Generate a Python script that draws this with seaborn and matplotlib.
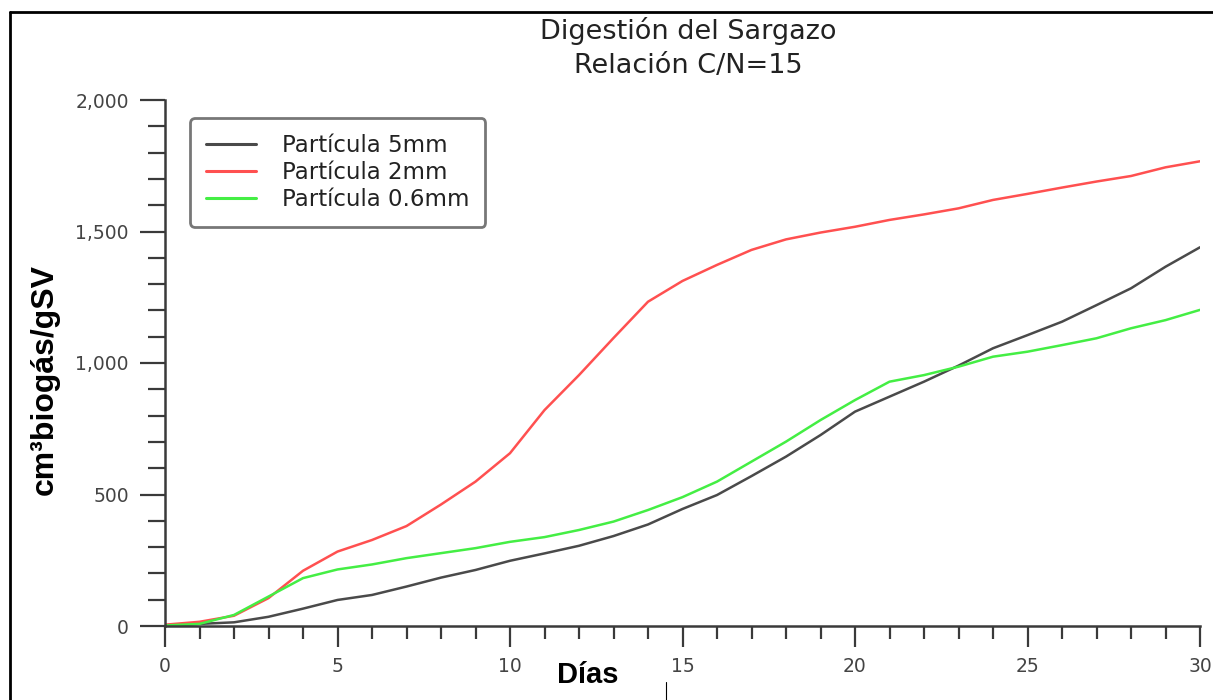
import numpy as np
import pandas as pd
import matplotlib
matplotlib.use("Agg")
import matplotlib.pyplot as plt
import seaborn as sns
from matplotlib.lines import Line2D
from matplotlib.ticker import MultipleLocator, FuncFormatter

days = list(range(0, 31))
p5mm = [0, 8, 14, 35, 66, 99, 118, 150, 184, 213, 248, 276, 305, 342, 386, 445,
        498, 570, 644, 726, 815, 872, 929, 990, 1056, 1106, 1157, 1220, 1284, 1366, 1440]
p2mm = [5, 16, 39, 106, 210, 283, 327, 380, 462, 549, 657, 821, 954, 1095, 1233, 1312,
        1373, 1430, 1470, 1496, 1518, 1544, 1565, 1588, 1620, 1643, 1667, 1690, 1711, 1744, 1767]
p06mm = [2, 8, 42, 112, 182, 215, 234, 258, 277, 296, 320, 338, 365, 397, 441, 490,
         549, 625, 701, 783, 859, 929, 954, 986, 1024, 1043, 1068, 1094, 1132, 1163, 1202]
series_names = ["Partícula 5mm", "Partícula 2mm", "Partícula 0.6mm"]
colors = ["#4a4a4a", "#ff5050", "#44ee44"]

df = pd.concat([
    pd.DataFrame({"Días": days, "valor": vals, "serie": name})
    for name, vals in zip(series_names, [p5mm, p2mm, p06mm])
])

sns.set_theme(style="white")
plt.rcParams['font.family'] = ['DejaVu Sans']

fig = plt.figure(figsize=(12.13, 7.0), dpi=100)
ax = fig.add_axes([165/1213, 1-626/700, (1200-165)/1213, (626-100)/700])

sns.lineplot(data=df, x="Días", y="valor", hue="serie", hue_order=series_names,
             palette=colors, linewidth=1.8, ax=ax, legend=False)

ax.set_xlim(0, 30)
ax.set_ylim(0, 2000)
ax.xaxis.set_major_locator(MultipleLocator(5))
ax.xaxis.set_minor_locator(MultipleLocator(1))
ax.yaxis.set_major_locator(MultipleLocator(500))
ax.yaxis.set_minor_locator(MultipleLocator(100))
ax.yaxis.set_major_formatter(FuncFormatter(lambda v, p: f"{int(v):,}"))

for s in ["top", "right"]:
    ax.spines[s].set_visible(False)
for s in ["left", "bottom"]:
    ax.spines[s].set_color("#3a3a3a")
    ax.spines[s].set_linewidth(1.8)

ax.tick_params(axis="y", which="both", left=True, right=False)
ax.tick_params(axis="x", which="both", bottom=True, top=False)
ax.tick_params(axis="both", which="major", direction="out", length=18, width=1.6,
               color="#3a3a3a", labelcolor="#444444", labelsize=13.5, pad=8)
ax.tick_params(axis="both", which="minor", direction="out", length=12, width=1.6,
               color="#3a3a3a")
ax.tick_params(axis="x", which="major", length=15, pad=7)
ax.tick_params(axis="x", which="minor", length=9)
ax.set_xlabel("")
ax.set_ylabel("")
ax.grid(False)

# Titles
fig.text(688/1213, 1-31/700, "Digestión del Sargazo", ha="center", va="center",
         fontsize=19.5, color="#222222")
fig.text(688/1213, 1-66/700, "Relación C/N=15", ha="center", va="center",
         fontsize=19.5, color="#222222")

# Axis labels
fig.text(588/1213, 1-675/700, "Días", ha="center", va="center",
         fontsize=21, fontweight="bold", color="black", family="Liberation Sans")
fig.text(45/1213, 1-380/700, "cm³biogás/gSV", ha="center", va="center", rotation=90,
         fontsize=23, fontweight="bold", color="black", family="Liberation Sans")

# Legend
handles = [Line2D([0], [0], color=c, lw=2.2) for c in colors]
leg = ax.legend(handles, series_names, loc="upper left",
                bbox_to_anchor=(190/1213, 1-118/700), bbox_transform=fig.transFigure,
                borderaxespad=0, fontsize=16.5, frameon=True, fancybox=True,
                handlelength=2.2, handletextpad=1.1, labelspacing=0.17,
                borderpad=0.7)
leg.get_frame().set_edgecolor("#555555")
leg.get_frame().set_linewidth(2)
for t in leg.get_texts():
    t.set_color("#222222")

# Outer frame lines
fig.add_artist(Line2D([10/1213, 10/1213], [0, 1-12/700], transform=fig.transFigure,
                      color="black", lw=2))
fig.add_artist(Line2D([10/1213, 1], [1-12/700, 1-12/700], transform=fig.transFigure,
                      color="black", lw=2))
fig.add_artist(Line2D([666/1213, 666/1213], [0, 1-682/700], transform=fig.transFigure,
                      color="black", lw=0.8))

fig.savefig("out.png", dpi=100)
